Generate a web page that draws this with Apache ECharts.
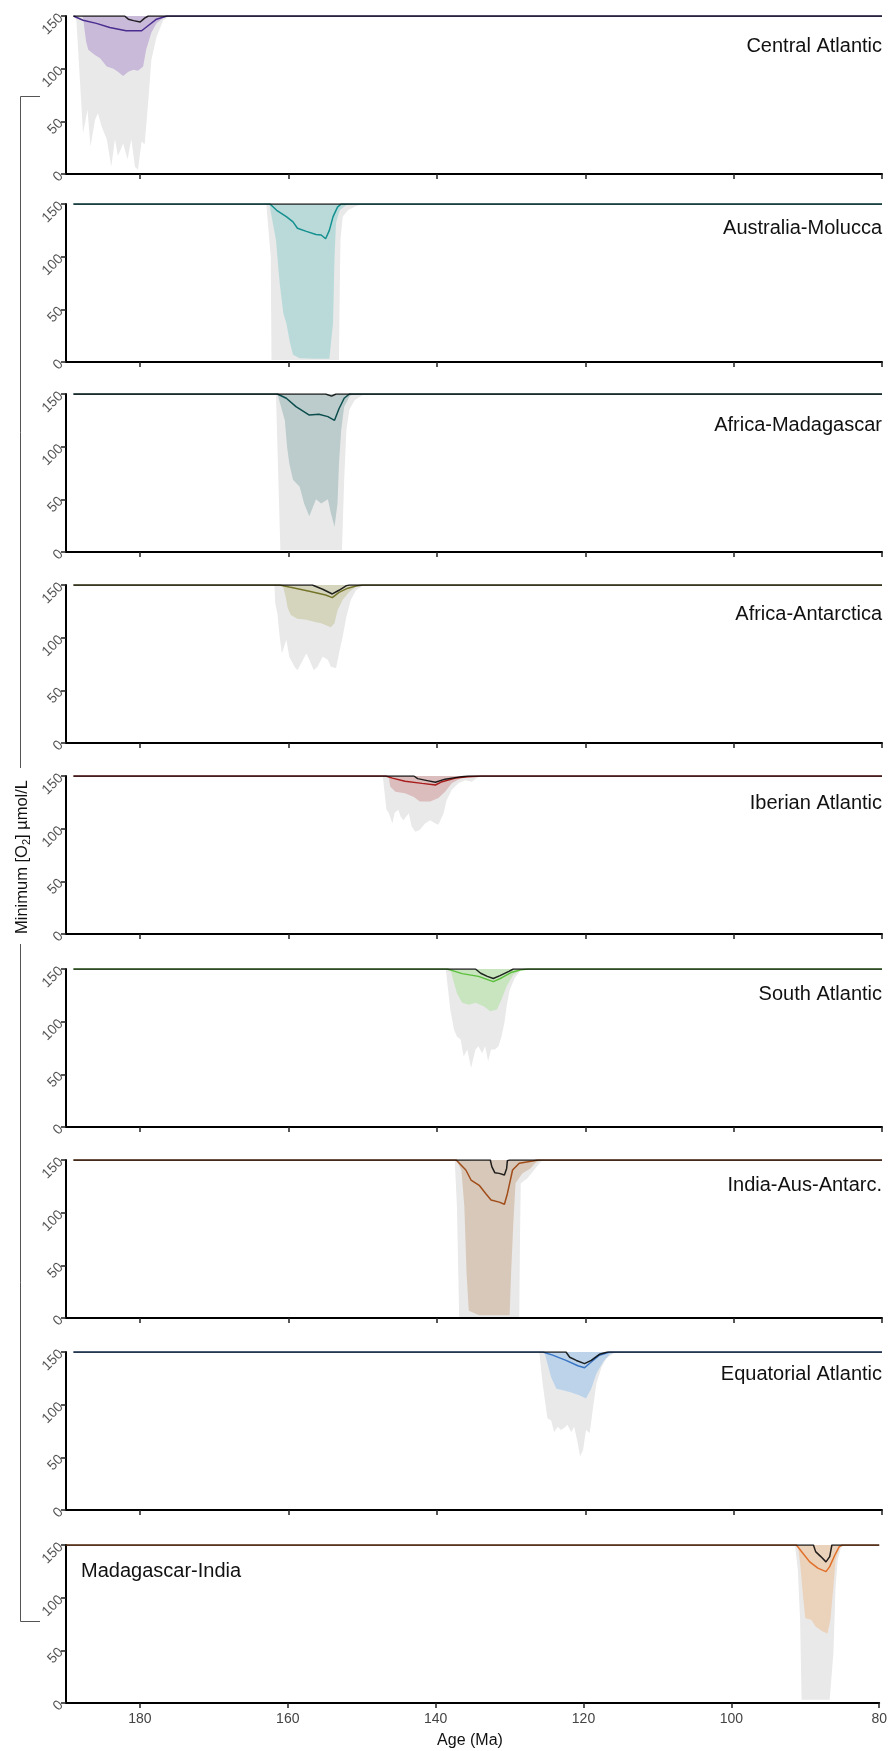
<!DOCTYPE html>
<html><head><meta charset="utf-8">
<script src="https://cdn.jsdelivr.net/npm/echarts@6/dist/echarts.min.js"></script>
<style>html,body{margin:0;padding:0;background:#fff}#c{width:890px;height:1751px}</style>
</head><body><div id="c"></div>
<script>
// ---------- labels / ticks ----------
const regionNames = ['Central Atlantic','Australia-Molucca','Africa-Madagascar','Africa-Antarctica','Iberian Atlantic','South Atlantic','India-Aus-Antarc.','Equatorial Atlantic','Madagascar-India'];
const xTickValues = [180,160,140,120,100,80];
const yTickValues = [0,50,100,150];
const xTitle = 'Age (Ma)';

// ---------- data: [age (Ma), minimum O2] ----------
// Central Atlantic
const caGray = [[189,150],[188.6,146],[188.1,86],[187.7,39],[187.1,61],[186.7,26],[186.1,51],[185.7,58],[185.2,45],[184.5,33],[183.9,7],[183.4,33],[183.0,17],[182.3,29],[181.7,14],[181.2,33],[180.7,7],[180.3,4],[179.8,31],[179.4,28],[178.9,70],[178.5,108],[177.8,130],[176.9,146],[176.0,150],[80,150]];
const caBand = [[189,150],[187.9,150],[187.7,148],[187.3,126],[187.0,118],[186.1,113],[185.4,110],[184.5,102],[183.6,100],[183.0,97],[182.3,93],[181.6,97],[180.9,99],[180.3,98],[179.6,102],[179.2,118],[178.5,134],[177.8,143],[176.9,148],[176.2,150],[80,150]];
const caLine = [[189,150],[188.9,150],[187.7,146],[185.9,143],[184.1,139],[181.9,136],[179.8,136],[178.9,141],[177.8,147],[176.4,150],[80,150]];
const caBlack = [[189,150],[182.1,150],[181.6,147],[180.9,145.6],[180.0,144.3],[179.4,148],[178.9,150],[80,150]];
// Australia-Molucca
const amGray = [[189,150],[163.0,150],[162.4,100],[162.3,2],[153.2,2],[153.1,68],[153.0,116],[152.7,138],[152.0,144],[150.9,148],[149.8,150],[80,150]];
const amBand = [[189,150],[162.6,150],[161.7,116],[161.2,75],[160.7,46],[160.3,37],[159.8,18],[159.4,7],[158.5,3.5],[156.3,3],[154.5,3],[154.0,37],[153.8,100],[153.6,132],[153.1,144],[152.2,149],[151.7,150],[80,150]];
const amLine = [[189,150],[162.5,150],[161.6,144],[160.3,138],[159.4,133],[158.8,127],[157.6,124],[156.3,121],[155.6,120.6],[155.0,117],[154.5,125],[154.0,138],[153.4,147],[152.9,150],[80,150]];
const amBlack = [[189,150],[80,150]];
// Africa-Madagascar
const afmGray = [[189,150],[161.7,150],[161.5,100],[161.1,2],[152.8,2],[152.5,68],[152.2,116],[151.8,135],[151.1,144],[150.0,149],[149.1,150],[80,150]];
const afmBand = [[189,150],[161.5,150],[160.5,125],[160.2,100],[159.9,84],[159.4,68.5],[158.5,62],[157.9,46],[157.2,34],[156.7,43],[156.3,50],[155.6,46],[154.7,50],[154.3,37],[153.8,24],[153.4,46],[153.2,84],[152.9,116],[152.5,138],[151.8,147.5],[151.4,150],[80,150]];
const afmLine = [[189,150],[161.5,150],[160.3,146],[159.0,138],[157.2,130],[155.9,130.7],[154.7,128.5],[153.8,125],[153.2,136],[152.5,146],[151.8,150],[80,150]];
const afmBlack = [[189,150],[155.0,150],[154.2,148],[153.6,150],[80,150]];
// Africa-Antarctica
const aaGray = [[189,150],[161.9,150],[161.8,133],[161.5,123],[161.2,101],[160.9,85],[160.3,98],[159.9,82],[159.2,72.5],[158.8,69],[158.3,75.6],[157.6,85],[157.2,79],[156.6,69],[156.1,72.5],[155.4,82],[154.7,79],[154.3,72.5],[153.6,71],[153.2,85],[152.7,101],[152.2,120],[151.6,136],[150.9,145],[150.0,149.4],[149.2,150],[80,150]];
const aaBand = [[189,150],[160.8,150],[160.4,139],[160.1,128],[159.7,121.5],[158.8,118],[157.6,117],[156.6,115],[155.6,113.6],[154.3,110],[153.8,113.6],[153.4,126],[152.7,136],[151.8,143.7],[150.9,148.4],[150.4,150],[80,150]];
const aaLine = [[189,150],[161.2,150],[159.9,148],[157.2,144],[155.0,140.5],[154.1,138],[153.2,143],[152.0,147],[150.9,149],[150.0,150],[80,150]];
const aaBlack = [[189,150],[156.8,150],[155.4,146],[154.1,141.5],[153.2,145],[152.2,149.4],[151.8,150],[80,150]];
// Iberian Atlantic
const ibGray = [[189,150],[147.3,150],[147.1,137],[146.8,118],[146.5,115],[146.0,105],[145.7,115],[145.2,118],[144.9,111.5],[144.5,108],[143.8,114.6],[143.4,102],[142.9,97],[142.3,99],[141.6,105],[140.9,108],[140.2,105],[139.8,103.6],[139.1,114.6],[138.7,127],[138.0,137],[137.1,143],[136.2,146],[135.3,144.6],[134.6,148],[134.0,150],[80,150]];
const ibBand = [[189,150],[146.5,150],[146.3,140],[145.6,135],[144.3,133.6],[143.1,130],[142.3,125.7],[140.9,125.7],[139.8,129],[138.9,135],[138.0,143],[136.7,148],[135.8,149.4],[134.0,150],[80,150]];
const ibLine = [[189,150],[146.9,150],[146.0,148],[144.3,145],[142.0,143],[140.2,141.5],[139.3,144.6],[137.5,148],[135.8,149.4],[134.0,150],[80,150]];
const ibBlack = [[189,150],[143.1,150],[142.6,147.5],[141.3,145.6],[140.2,144],[138.9,147],[136.7,149.4],[135.8,150],[80,150]];
// South Atlantic
const saGray = [[189,150],[138.8,150],[138.6,137],[138.2,111.5],[137.7,92.5],[137.3,86],[136.8,83],[136.4,67],[135.9,73.6],[135.4,56],[134.8,73.6],[134.4,76.7],[133.9,70],[133.5,76.7],[133.1,62.5],[132.7,73.6],[132.2,73.6],[131.7,76.7],[131.3,86],[130.9,99],[130.6,114.6],[130.2,130],[129.5,141.5],[128.8,147.8],[128.2,150],[80,150]];
const saBand = [[189,150],[138.2,150],[137.7,137],[137.3,127],[136.6,118],[135.7,116],[134.8,118],[133.7,114.6],[132.8,110],[131.9,111.5],[131.3,121],[130.6,133.6],[129.7,144.6],[128.6,149.4],[128.2,150],[80,150]];
const saLine = [[189,150],[138.6,150],[138.0,148.7],[136.6,145.6],[134.4,143],[132.4,138],[131.3,141.5],[129.9,147],[128.6,149.4],[127.7,150],[80,150]];
const saBlack = [[189,150],[134.8,150],[134.1,146],[133.2,143],[132.4,141],[131.5,143.7],[130.3,147.8],[129.7,150],[80,150]];
// India-Aus-Antarc.
const iaGray = [[189,150],[137.6,150],[137.3,105.6],[137.0,1],[128.9,1],[128.8,74],[128.7,128],[127.8,132.6],[126.9,140.5],[126.0,148.4],[125.6,150],[80,150]];
const iaBand = [[189,150],[137.4,150],[136.7,140.5],[136.3,105.6],[136.0,42],[135.7,7],[134.3,2.5],[130.2,2.5],[130.0,42],[129.7,90],[129.4,128],[128.5,137.3],[127.4,142],[126.7,147.5],[126.0,150],[80,150]];
const iaLine = [[189,150],[137.4,150],[137.2,149.4],[136.1,140.5],[135.4,131],[134.3,126],[133.4,118],[132.7,112],[131.6,110],[130.9,108],[130.5,118],[129.8,140.5],[128.9,147],[127.1,149],[126.4,150],[80,150]];
const iaBlack = [[189,150],[132.8,150],[132.6,143.7],[132.2,138],[131.6,137.3],[130.9,135.7],[130.6,142],[130.5,149.4],[130.2,150],[80,150]];
// Equatorial Atlantic
const eqGray = [[189,150],[126.2,150],[125.8,123],[125.5,107],[125.1,87],[124.6,85],[124.2,74],[123.7,79],[123.3,76],[122.8,78],[122.4,81],[121.9,74],[121.5,79],[121.0,63],[120.7,51],[120.3,57],[119.9,76],[119.4,73],[119.0,94.7],[118.5,120],[117.8,135.8],[117.2,143.7],[116.3,148.4],[115.6,150],[80,150]];
const eqBand = [[189,150],[125.5,150],[125.1,139],[124.6,126],[123.9,115],[123.0,113.7],[122.1,112],[120.8,109],[119.9,105.8],[119.2,115],[118.5,129.5],[117.6,140.5],[116.7,147.8],[115.8,150],[80,150]];
const eqLine = [[189,150],[125.7,150],[124.4,147],[122.6,142],[121.0,137],[120.1,135],[119.2,140.5],[118.1,147],[116.7,150],[80,150]];
const eqBlack = [[189,150],[122.6,150],[122.1,145],[121.2,142],[120.1,139],[119.2,142],[118.1,147.8],[117.0,150],[80,150]];
// Madagascar-India
const miGray = [[190,150],[91.4,150],[91.0,126],[90.7,79],[90.5,3],[86.7,3],[86.2,47],[85.9,110.5],[85.6,136],[85.2,147],[84.7,150],[80,150]];
const miBand = [[190,150],[91.0,150],[90.7,132.6],[90.3,101],[90.0,80.5],[89.2,79],[88.6,72.6],[87.7,68],[87.0,66],[86.6,79],[86.2,110.5],[85.9,136],[85.4,147],[85.0,150],[80,150]];
const miLine = [[190,150],[91.2,150],[90.3,142],[89.4,134],[88.3,128],[87.2,124.7],[86.7,129.5],[86.0,140.5],[85.4,148.4],[85.0,150],[80,150]];
const miBlack = [[190,150],[88.9,150],[88.6,143.7],[87.9,139],[87.2,134],[87.0,132.6],[86.7,139],[86.4,150],[80,150]];

const grayData  = [caGray, amGray, afmGray, aaGray, ibGray, saGray, iaGray, eqGray, miGray];
const bandData  = [caBand, amBand, afmBand, aaBand, ibBand, saBand, iaBand, eqBand, miBand];
const lineData  = [caLine, amLine, afmLine, aaLine, ibLine, saLine, iaLine, eqLine, miLine];
const blackData = [caBlack, amBlack, afmBlack, aaBlack, ibBlack, saBlack, iaBlack, eqBlack, miBlack];

// ---------- styles / layout ----------
const bandColors = ['#c9bad9','#badada','#bccbcb','#d5d5be','#dcbdbd','#c8e5c0','#d8c8b9','#bcd3ea','#ebd2bb'];
const lineColors = ['#4b2d8f','#13908f','#0c4d4d','#75752a','#a81c1c','#5cbf3c','#a04d1a','#3a75c4','#e0702a'];
const gridTops = [16,204,394,585,776,969,1160,1352,1545];
const labelOffsets = [30,24,31,29,27,25,25,22,26];
const gridH = 158;
const FONT = "'Liberation Sans', Arial, Helvetica, sans-serif";

const chart = echarts.init(document.getElementById('c'), null, {renderer:'canvas'});
const grids = [], xAxes = [], yAxes = [], series = [], graphics = [];
const last = regionNames.length - 1;
regionNames.forEach((name, i) => {
  grids.push({left:66, right:8, top:gridTops[i], height:gridH, containLabel:false});
  xAxes.push({
    type:'value', gridIndex:i, min:80, max:190, interval:20, inverse:true,
    axisLine:{show:true, onZero:false, lineStyle:{color:'#000', width:2}},
    axisTick:{show:true, length:5, customValues:xTickValues, lineStyle:{color:'#222', width:1.5}},
    axisLabel:{show:i===last, customValues:xTickValues, color:'#444', fontSize:14, fontFamily:FONT, margin:9},
    splitLine:{show:false}
  });
  yAxes.push({
    type:'value', gridIndex:i, min:0, max:150, interval:50,
    axisLine:{show:true, lineStyle:{color:'#000', width:2}},
    axisTick:{show:true, length:5, lineStyle:{color:'#222', width:1.5}},
    axisLabel:{rotate:45, color:'#555', fontSize:14, fontFamily:FONT, margin:5},
    splitLine:{show:false}
  });
  const common = {type:'line', xAxisIndex:i, yAxisIndex:i, symbol:'none', silent:true, animation:false, smooth:false};
  series.push(Object.assign({}, common, {data:grayData[i], z:1, lineStyle:{width:0, opacity:0}, areaStyle:{color:'#e9e9e9', opacity:1, origin:'end'}}));
  series.push(Object.assign({}, common, {data:bandData[i], z:2, lineStyle:{width:0, opacity:0}, areaStyle:{color:bandColors[i], opacity:1, origin:'end'}}));
  series.push(Object.assign({}, common, {data:lineData[i], z:3, lineStyle:{color:lineColors[i], width:1.5}}));
  series.push(Object.assign({}, common, {data:blackData[i], z:4, lineStyle:{color:'#000', width:1.5, opacity:0.85}}));
  const leftLabel = (i === last);
  graphics.push({type:'text', x: leftLabel ? 81 : 882, y: gridTops[i] + labelOffsets[i],
    style:{text:name, fontSize:20, fontFamily:FONT, fill:'#111', align: leftLabel ? 'left':'right', verticalAlign:'middle'}});
});

// y-axis title and bracket
graphics.push({type:'text', x:22, y:857, rotation:Math.PI/2,
  style:{text:'Minimum [O{sub|2}] µmol/L', fontSize:16.5, fontFamily:FONT, fill:'#111', align:'center', verticalAlign:'middle',
    rich:{sub:{fontSize:11, fontFamily:FONT, fill:'#111', padding:[9,0,0,0]}}}});
graphics.push({type:'polyline', shape:{points:[[40,96.5],[20.5,96.5],[20.5,768]]}, style:{stroke:'#555', lineWidth:1, fill:null}});
graphics.push({type:'polyline', shape:{points:[[20.5,944],[20.5,1621.5],[40,1621.5]]}, style:{stroke:'#555', lineWidth:1, fill:null}});
// x-axis title
graphics.push({type:'text', x:470, y:1741, style:{text:xTitle, fontSize:16, fontFamily:FONT, fill:'#111', align:'center', verticalAlign:'middle'}});

chart.setOption({
  animation:false,
  backgroundColor:'#fff',
  grid:grids, xAxis:xAxes, yAxis:yAxes, series:series, graphic:graphics
});
</script></body></html>
